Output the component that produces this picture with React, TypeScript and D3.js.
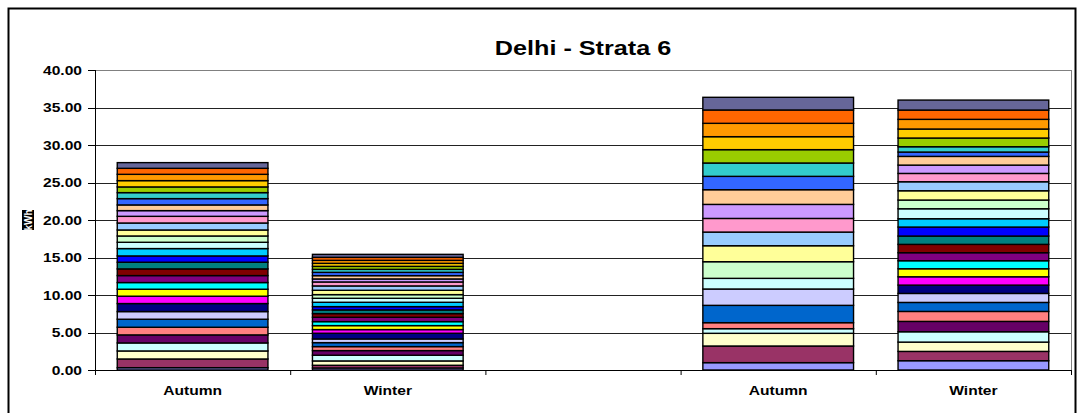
import React from "react";
import * as d3 from "d3";

const categories = ["Autumn", "Winter", "", "Autumn", "Winter"];
const seriesColors = [
  "#9999FF", "#993366", "#FFFFCC", "#CCFFFF", "#660066", "#FF8080", "#0066CC", "#CCCCFF",
  "#000080", "#FF00FF", "#FFFF00", "#00FFFF", "#800080", "#800000", "#008080", "#0000FF",
  "#00CCFF", "#CCFFFF", "#CCFFCC", "#FFFF99", "#99CCFF", "#FF99CC", "#CC99FF", "#FFCC99",
  "#3366FF", "#33CCCC", "#99CC00", "#FFCC00", "#FF9900", "#FF6600", "#666699",
];
const autumnA = [0.31, 1.16, 1.07, 1.07, 1.07, 1.02, 1.07, 1.02, 1.07, 0.98, 0.93, 0.89, 0.93, 0.89, 0.89, 0.84, 0.98, 0.84, 0.84, 0.8, 0.93, 0.89, 0.76, 0.76, 0.84, 0.8, 0.76, 0.84, 0.84, 0.8, 0.76];
const winterA = [0.27, 0.36, 0.58, 0.76, 0.62, 0.53, 0.53, 0.49, 0.76, 0.49, 0.53, 0.53, 0.58, 0.49, 0.49, 0.44, 0.58, 0.53, 0.49, 0.58, 0.58, 0.53, 0.4, 0.44, 0.44, 0.4, 0.4, 0.4, 0.4, 0.4, 0.4];
const emptyMid: number[] = [];
const autumnB = [0.98, 2.22, 1.69, 0.62, 0, 0.8, 2.31, 2.18, 0, 0, 0, 0, 0, 0, 0, 0, 0, 1.42, 2.22, 2.13, 1.82, 1.82, 1.87, 1.96, 1.78, 1.78, 1.78, 1.73, 1.78, 1.78, 1.69];
const winterB = [1.24, 1.24, 1.24, 1.38, 1.38, 1.33, 1.2, 1.2, 1.11, 1.11, 1.07, 1.07, 1.07, 1.11, 1.11, 1.2, 1.11, 1.33, 1.16, 1.24, 1.2, 1.11, 1.11, 1.16, 0.58, 0.71, 1.16, 1.2, 1.29, 1.24, 1.33];
const yTicks = [0, 5, 10, 15, 20, 25, 30, 35, 40];
const title = "Delhi - Strata 6";
const yTitle = "kWh";

const barData = [autumnA, winterA, emptyMid, autumnB, winterB];

const SX = 1.2;

function SText(props: { x: number; y: number; anchor: string; size: number; children: React.ReactNode; fill?: string }) {
  return (
    <g transform={`translate(${props.x},${props.y}) scale(${SX},1)`}>
      <text x={0} y={0} textAnchor={props.anchor as any} fontFamily="Arial, 'Liberation Sans', sans-serif"
        fontWeight="bold" fontSize={props.size} fill={props.fill || "#000"}>{props.children}</text>
    </g>
  );
}

export default function App() {
  const W = 1083, H = 413;
  const left = 95, right = 1071, top = 70, bottom = 370;
  const ids = categories.map((_, i) => "c" + i);
  const x = d3.scaleBand<string>().domain(ids).range([left, right]).paddingInner(0.228).paddingOuter(0.114);
  const y = d3.scaleLinear().domain([0, 40]).range([bottom, top]);
  const fmt = d3.format(".2f");
  const font = "Arial, 'Liberation Sans', sans-serif";
  const halfGap = (x.step() - x.bandwidth()) / 2;

  const rects: React.ReactNode[] = [];
  barData.forEach((vals, bi) => {
    let acc = 0;
    vals.forEach((v, si) => {
      if (v <= 0) return;
      const y0 = y(acc);
      const y1 = y(acc + v);
      acc += v;
      rects.push(
        <rect key={bi + "-" + si} x={x(ids[bi])!} y={y1} width={x.bandwidth()} height={y0 - y1}
          fill={seriesColors[si]} stroke="#000" strokeWidth={1.4} />
      );
    });
  });

  return (
    <svg width={W} height={H} style={{ display: "block", position: "absolute", left: 0, top: 0 }}>
      <rect x={0} y={0} width={W} height={H} fill="#fff" />
      <rect x={8.5} y={8.5} width={1067} height={420} fill="none" stroke="#000" strokeWidth={2} />
      <SText x={(left + right) / 2} y={55} anchor="middle" size={21}>{title}</SText>
      <line x1={left} x2={right} y1={y(40) + 0.5} y2={y(40) + 0.5} stroke="#808080" />
      <line x1={right + 0.5} x2={right + 0.5} y1={y(40)} y2={bottom} stroke="#808080" />
      {yTicks.filter(t => t > 0 && t < 40).map(t => (
        <line key={"g" + t} x1={left} x2={right} y1={Math.round(y(t)) + 0.5} y2={Math.round(y(t)) + 0.5} stroke="#222" />
      ))}
      {rects}
      <line x1={left + 0.5} x2={left + 0.5} y1={top} y2={bottom} stroke="#000" />
      <line x1={left} x2={right} y1={bottom + 0.5} y2={bottom + 0.5} stroke="#000" />
      {yTicks.map(t => (
        <g key={"t" + t}>
          <line x1={left - 7} x2={left} y1={Math.round(y(t)) + 0.5} y2={Math.round(y(t)) + 0.5} stroke="#000" />
          <SText x={82} y={y(t) + 4.5} anchor="end" size={13}>{fmt(t)}</SText>
        </g>
      ))}
      {ids.map((id, i) => (
        <line key={"xt" + i} x1={x(id)! - halfGap + 0.5} x2={x(id)! - halfGap + 0.5} y1={bottom} y2={bottom + 5} stroke="#000" />
      ))}
      <line x1={right + 0.5} x2={right + 0.5} y1={bottom} y2={bottom + 5} stroke="#000" />
      {categories.map((c, i) => (
        <SText key={"xl" + i} x={x(ids[i])! + x.bandwidth() / 2} y={395} anchor="middle" size={13}>{c}</SText>
      ))}
      <g transform={`translate(28,220) rotate(-90)`}>
        <rect x={-10} y={-6} width={20} height={12} fill="#000" />
        <text x={0} y={3.5} textAnchor="middle" fontFamily={font} fontWeight="bold" fontSize={10} fill="#fff">{yTitle}</text>
      </g>
    </svg>
  );
}
